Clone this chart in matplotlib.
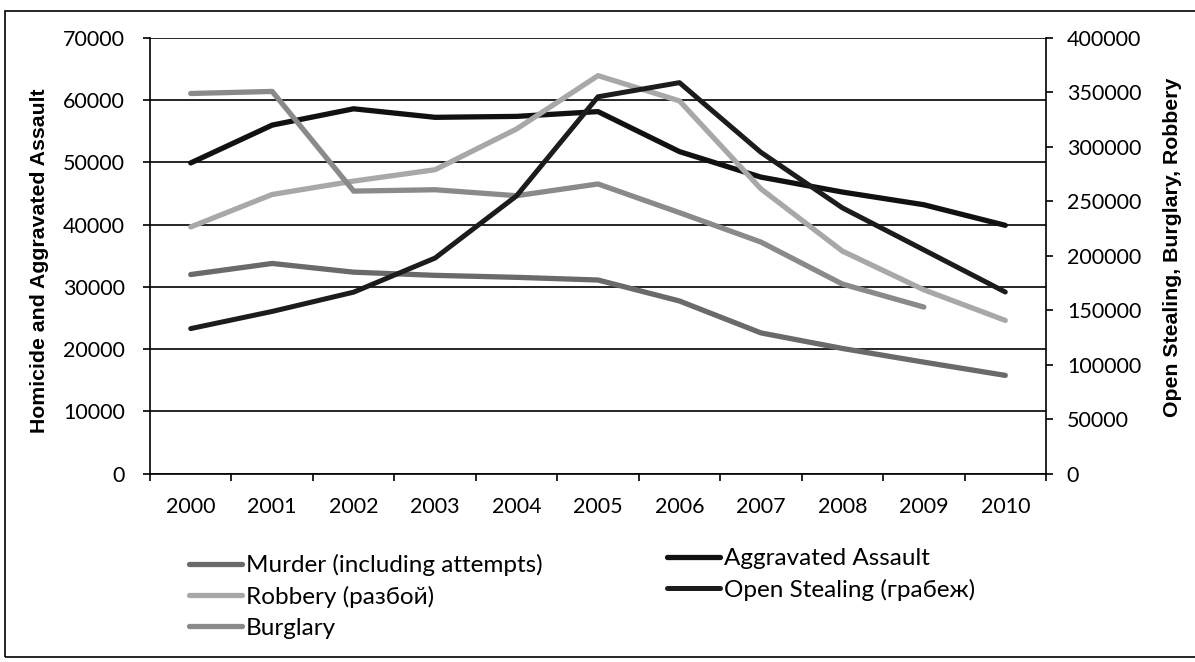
import matplotlib
matplotlib.use('Agg')
import matplotlib.pyplot as plt
from matplotlib.patches import Rectangle
from matplotlib.lines import Line2D
import numpy as np

plt.rcParams['font.family'] = ['Lato', 'Noto Sans', 'DejaVu Sans']

years = ['2000', '2001', '2002', '2003', '2004', '2005', '2006', '2007', '2008', '2009', '2010']
murder = [31980, 33760, 32360, 31850, 31530, 31100, 27730, 22600, 20100, 17900, 15770]
aggravated_assault = [49920, 56000, 58620, 57250, 57400, 58170, 51740, 47640, 45240, 43200, 39890]
robbery = [39630, 44850, 47000, 48830, 55370, 63950, 59890, 45750, 35750, 29530, 24610]
burglary = [61080, 61410, 45390, 45610, 44650, 46540, 41930, 37200, 30450, 26750]  # 2000-2009
open_stealing = [133100, 148850, 166570, 197900, 255000, 346000, 359000, 295000, 244000, 205400, 166700]

left_ticks = list(range(0, 70001, 10000))
right_ticks = list(range(0, 400001, 50000))

W, H = 1195, 662
fig = plt.figure(figsize=(W / 100, H / 100), dpi=100)
fig.patch.set_facecolor('white')

x0, x1 = 150, 1046
ytop, ybot = 38, 473.5
ax = fig.add_axes([x0 / W, 1 - ybot / H, (x1 - x0) / W, (ybot - ytop) / H])
ax.set_facecolor('none')
ax2 = ax.twinx()

lw = 3.8
c_murder = '#6a6a6a'
c_assault = '#111111'
c_robbery = '#a8a8a8'
c_burglary = '#8a8a8a'
c_open = '#1c1c1c'

style = dict(solid_capstyle='round', solid_joinstyle='round')
xs = np.arange(len(years))
ax.plot(xs, murder, color=c_murder, lw=lw, **style)
ax.plot(xs, aggravated_assault, color=c_assault, lw=lw, **style)
ax.plot(xs, robbery, color=c_robbery, lw=lw, **style)
ax.plot(xs[:len(burglary)], burglary, color=c_burglary, lw=lw, **style)
ax2.plot(xs, open_stealing, color=c_open, lw=3.6, **style)

ax.set_xlim(-0.5, len(years) - 0.5)
ax.set_ylim(0, 70000)
ax2.set_ylim(0, 400000)
ax.set_yticks(left_ticks)
ax2.set_yticks(right_ticks)
ax.set_yticklabels([str(t) for t in left_ticks])
ax2.set_yticklabels([str(t) for t in right_ticks])

ax.set_xticks(xs)
ax.set_xticklabels(years)
ax.set_xticks(np.arange(-0.5, len(years), 1), minor=True)
ax.tick_params(axis='x', which='major', length=0, pad=17, labelsize=15.5)
ax.tick_params(axis='x', which='minor', length=5, width=1.2, direction='out', color='black')
ax.tick_params(axis='y', length=5, width=1.2, direction='out', pad=13, labelsize=15.5, color='black')
ax2.tick_params(axis='y', length=5, width=1.2, direction='out', pad=10, labelsize=15.5, color='black')

ax.grid(axis='y', color='black', lw=1.2)
ax.set_axisbelow(True)

for s in ['top', 'right']:
    ax.spines[s].set_visible(False)
for s in ['left', 'bottom']:
    ax.spines[s].set_color('black')
    ax.spines[s].set_linewidth(1.2)
for s in ['top', 'left', 'bottom']:
    ax2.spines[s].set_visible(False)
ax2.spines['right'].set_color('black')
ax2.spines['right'].set_linewidth(1.2)

lab_font = dict(family=['Liberation Sans', 'DejaVu Sans'], fontsize=15.3, fontweight='bold')
fig.text(40 / W, 1 - 261 / H, 'Homicide and Aggravated Assault', rotation=90,
         ha='center', va='center', **lab_font)
fig.text(1173 / W, 1 - 247 / H, 'Open Stealing, Burglary, Robbery', rotation=90,
         ha='center', va='center', **lab_font)

def h(c, w=lw):
    return Line2D([], [], color=c, lw=w, solid_capstyle='round')

leg_kw = dict(frameon=False, fontsize=17.5, handlelength=2.2, handletextpad=0.15,
              labelspacing=0.4, borderpad=0, borderaxespad=0, loc='upper left')
leg1 = fig.legend([h(c_murder), h(c_robbery), h(c_burglary)],
                  ['Murder (including attempts)', 'Robbery (разбой)', 'Burglary'],
                  bbox_to_anchor=(189 / W, 1 - 554 / H), **leg_kw)
leg2 = fig.legend([h(c_assault), h(c_open, 3.6)],
                  ['Aggravated Assault', 'Open Stealing (грабеж)'],
                  bbox_to_anchor=(667 / W, 1 - 548 / H), **leg_kw)

fig.add_artist(Rectangle((5 / W, 1 - 657 / H), 2, (657 - 11) / H, transform=fig.transFigure,
                         fill=False, ec='black', lw=1.2))

fig.savefig('out.png', dpi=100, facecolor='white')
